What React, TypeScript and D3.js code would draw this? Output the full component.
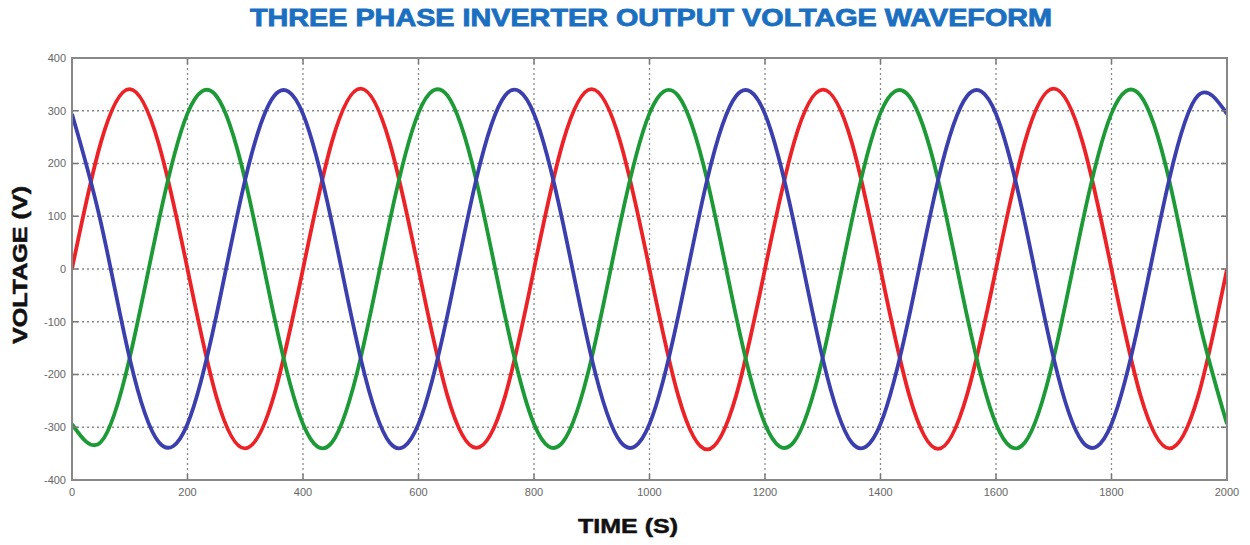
import React from 'react';
import * as d3 from 'd3';

// sample times (s) and voltages (V) every 50 s
const time = d3.range(0, 2001, 50);

const phaseA = [
  0, 240, 341, 238, 0, -242, -340, -239,
  0, 241, 342, 240, 0, -240, -339, -241,
  0, 240, 341, 239, 0, -241, -342, -240,
  0, 239, 340, 241, 0, -240, -341, -238,
  0, 241, 342, 240, 0, -239, -340, -241,
  0,
];

const phaseB = [
  -294, -328, -168, 90, 295, 328, 168, -90,
  -294, -329, -168, 90, 296, 329, 168, -90,
  -294, -328, -168, 90, 295, 328, 168, -90,
  -294, -328, -168, 90, 296, 327, 168, -90,
  -294, -329, -168, 90, 295, 329, 168, -90,
  -294,
];

const phaseC = [
  294, 88, -170, -328, -294, -88, 170, 328,
  294, 88, -170, -329, -294, -88, 170, 329,
  294, 88, -170, -328, -294, -88, 170, 328,
  294, 88, -170, -329, -294, -88, 170, 328,
  294, 88, -170, -328, -294, -88, 170, 329,
  294,
];

const xTicks = [0, 200, 400, 600, 800, 1000, 1200, 1400, 1600, 1800, 2000];
const yTicks = [-400, -300, -200, -100, 0, 100, 200, 300, 400];

const series = [
  { name: 'A', values: phaseA, color: '#ec2227' },
  { name: 'B', values: phaseB, color: '#1c9a36' },
  { name: 'C', values: phaseC, color: '#3b3fae' },
];

const W = 1250;
const H = 545;
const margin = { top: 58, right: 23, bottom: 65, left: 72 };

export default function App() {
  const innerW = W - margin.left - margin.right;
  const innerH = H - margin.top - margin.bottom;

  const x = d3.scaleLinear().domain([0, 2000]).range([0, innerW]);
  const y = d3.scaleLinear().domain([-400, 400]).range([innerH, 0]);

  const line = d3
    .line<number>()
    .x((_, i) => x(time[i]))
    .y((d) => y(d))
    .curve(d3.curveNatural);

  return (
    <svg
      width={W}
      height={H}
      style={{ position: 'absolute', left: 0, top: 0, background: '#fff' }}
      fontFamily="'Liberation Sans', Arial, sans-serif"
    >
      <text
        x={651}
        y={26}
        textAnchor="middle"
        fontSize={23}
        fontWeight="bold"
        fill="#1b6fc1"
        stroke="#1b6fc1"
        strokeWidth={0.8}
        textLength={802}
        lengthAdjust="spacingAndGlyphs"
      >
        THREE PHASE INVERTER OUTPUT VOLTAGE WAVEFORM
      </text>

      <g transform={`translate(${margin.left},${margin.top})`}>
        {/* grid */}
        {xTicks.slice(1, -1).map((t) => (
          <line
            key={'gx' + t}
            x1={x(t)}
            x2={x(t)}
            y1={0}
            y2={innerH}
            stroke="#8a8a8a"
            strokeWidth={1.3}
            strokeDasharray="2,3"
          />
        ))}
        {yTicks.slice(1, -1).map((t) => (
          <line
            key={'gy' + t}
            x1={0}
            x2={innerW}
            y1={y(t)}
            y2={y(t)}
            stroke="#8a8a8a"
            strokeWidth={1.3}
            strokeDasharray="2,3"
          />
        ))}

        {/* waveforms */}
        <g clipPath="url(#plotclip)">
          {series.map((s) => (
            <path
              key={s.name}
              d={line(s.values) || ''}
              fill="none"
              stroke={s.color}
              strokeWidth={3.8}
              strokeLinejoin="round"
            />
          ))}
        </g>
        <defs>
          <clipPath id="plotclip">
            <rect x={0} y={0} width={innerW} height={innerH} />
          </clipPath>
        </defs>

        {/* inward ticks */}
        {xTicks.map((t) => (
          <g key={'tx' + t}>
            <line x1={x(t)} x2={x(t)} y1={innerH} y2={innerH - 6} stroke="#777" strokeWidth={1.5} />
            <line x1={x(t)} x2={x(t)} y1={0} y2={6} stroke="#777" strokeWidth={1.5} />
            <text
              x={x(t)}
              y={innerH + 16}
              textAnchor="middle"
              fontSize={11}
              fill="#666"
            >
              {t}
            </text>
          </g>
        ))}
        {yTicks.map((t) => (
          <g key={'ty' + t}>
            <line x1={0} x2={6} y1={y(t)} y2={y(t)} stroke="#777" strokeWidth={1.5} />
            <line x1={innerW} x2={innerW - 6} y1={y(t)} y2={y(t)} stroke="#777" strokeWidth={1.5} />
            <text
              x={-6}
              y={y(t)}
              dy="0.35em"
              textAnchor="end"
              fontSize={11}
              fill="#666"
            >
              {t}
            </text>
          </g>
        ))}

        {/* frame */}
        <rect x={0} y={0} width={innerW} height={innerH} fill="none" stroke="#888" strokeWidth={2} />
      </g>

      <text
        x={628}
        y={533}
        textAnchor="middle"
        fontSize={21}
        fontWeight="bold"
        fill="#111"
        stroke="#111"
        strokeWidth={0.5}
        textLength={100}
        lengthAdjust="spacingAndGlyphs"
      >
        TIME  (S)
      </text>
      <text
        transform="translate(27,265) rotate(-90)"
        textAnchor="middle"
        fontSize={20}
        fontWeight="bold"
        fill="#111"
        stroke="#111"
        strokeWidth={0.5}
        textLength={158}
        lengthAdjust="spacingAndGlyphs"
      >
        VOLTAGE  (V)
      </text>
    </svg>
  );
}
